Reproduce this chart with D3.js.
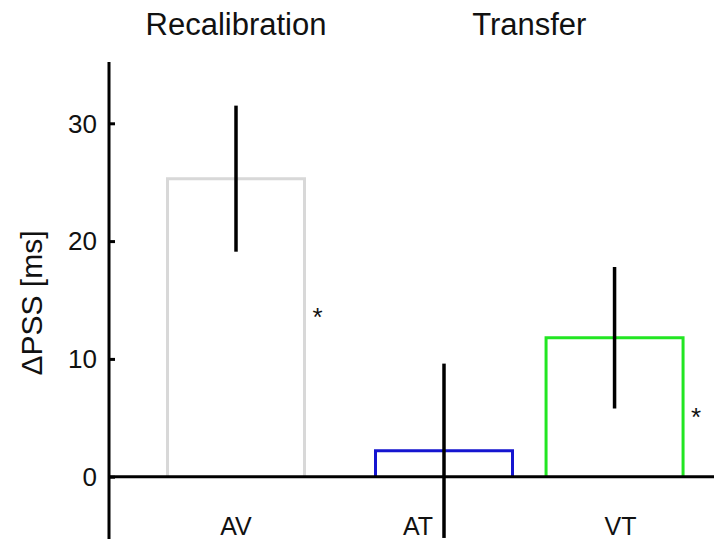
<!DOCTYPE html>
<html>
<head>
<meta charset="utf-8">
<script src="https://cdn.jsdelivr.net/npm/d3@7"></script>
<style>
  body { margin: 0; background: #fff; }
  svg { display: block; font-family: "Liberation Sans", Arial, sans-serif; }
</style>
</head>
<body>
<svg id="chart" width="714" height="539"></svg>
<script>
// data
var conditions = ["AV", "AT", "VT"];
var condPos = [1, 2, 2.82];          // horizontal position of each condition
var meanShift = [25.3, 2.2, 11.8];   // ΔPSS in ms
var errHalf = [6.2, 7.4, 6.0];       // half length of the error bar
var barColors = ["#d8d8d8", "#1515d0", "#22e622"];
var starValues = [14.2, 5.7];        // height of the significance stars
var starConds = ["AV", "VT"];
var groupNames = ["Recalibration", "Transfer"];
var groupPos = [1, 2.41];
var yTicks = [0, 10, 20, 30];

var svg = d3.select("#chart");

// schalen
var x = d3.scaleLinear().domain([1, 2]).range([236, 444]);
var y = d3.scaleLinear().domain([0, 10]).range([476.7, 358.9]);
var axisX = 109;
var barW = 137;

// bars (open rectangles, bodem valt samen met de nullijn)
conditions.forEach(function(c, i) {
  var cx = x(condPos[i]);
  var x0 = cx - barW / 2, x1 = cx + barW / 2;
  var path = d3.path();
  path.moveTo(x0, y(0));
  path.lineTo(x0, y(meanShift[i]));
  path.lineTo(x1, y(meanShift[i]));
  path.lineTo(x1, y(0));
  svg.append("path")
    .attr("d", path.toString())
    .attr("fill", "none")
    .attr("stroke", barColors[i])
    .attr("stroke-width", 3);
});

// nullijn
svg.append("line")
  .attr("x1", axisX).attr("x2", 714)
  .attr("y1", y(0)).attr("y2", y(0))
  .attr("stroke", "#000").attr("stroke-width", 3);

// error bars
conditions.forEach(function(c, i) {
  svg.append("line")
    .attr("x1", x(condPos[i])).attr("x2", x(condPos[i]))
    .attr("y1", y(meanShift[i] + errHalf[i]))
    .attr("y2", y(meanShift[i] - errHalf[i]))
    .attr("stroke", "#000").attr("stroke-width", 3.5);
});

// y-as
var yAxis = svg.append("g")
  .attr("transform", "translate(" + axisX + ",0)")
  .call(d3.axisRight(y).tickValues(yTicks).tickSize(6).tickFormat(""));
yAxis.select(".domain").remove();
yAxis.selectAll(".tick line").attr("stroke-width", 3);

svg.append("line")
  .attr("x1", axisX).attr("x2", axisX)
  .attr("y1", 62).attr("y2", 539)
  .attr("stroke", "#000").attr("stroke-width", 3);

svg.selectAll(".ytick")
  .data(yTicks)
  .enter().append("text")
    .attr("x", 97)
    .attr("y", function(d) { return y(d); })
    .attr("dy", "0.36em")
    .attr("text-anchor", "end")
    .attr("font-size", 26)
    .attr("fill", "#111")
    .text(function(d) { return d; });

// y label
svg.append("text")
  .attr("transform", "translate(42,303) rotate(-90)")
  .attr("text-anchor", "middle")
  .attr("font-size", 30)
  .attr("fill", "#111")
  .text("ΔPSS [ms]");

// conditie labels (AT staat links van de error bar)
var labelShift = { AV: 0, AT: -26, VT: 6 };
conditions.forEach(function(c, i) {
  svg.append("text")
    .attr("x", x(condPos[i]) + labelShift[c])
    .attr("y", 535)
    .attr("text-anchor", "middle")
    .attr("font-size", 25)
    .attr("fill", "#111")
    .text(c);
});

// titels
groupNames.forEach(function(g, i) {
  svg.append("text")
    .attr("x", x(groupPos[i]))
    .attr("y", 35)
    .attr("text-anchor", "middle")
    .attr("font-size", 31)
    .attr("fill", "#111")
    .text(g);
});

// sterretjes
starConds.forEach(function(c, i) {
  var k = conditions.indexOf(c);
  svg.append("text")
    .attr("x", x(condPos[k]) + barW / 2 + 13)
    .attr("y", y(starValues[i]))
    .attr("dy", "0.62em")
    .attr("text-anchor", "middle")
    .attr("font-size", 26)
    .attr("fill", "#111")
    .text("*");
});
</script>
</body>
</html>
